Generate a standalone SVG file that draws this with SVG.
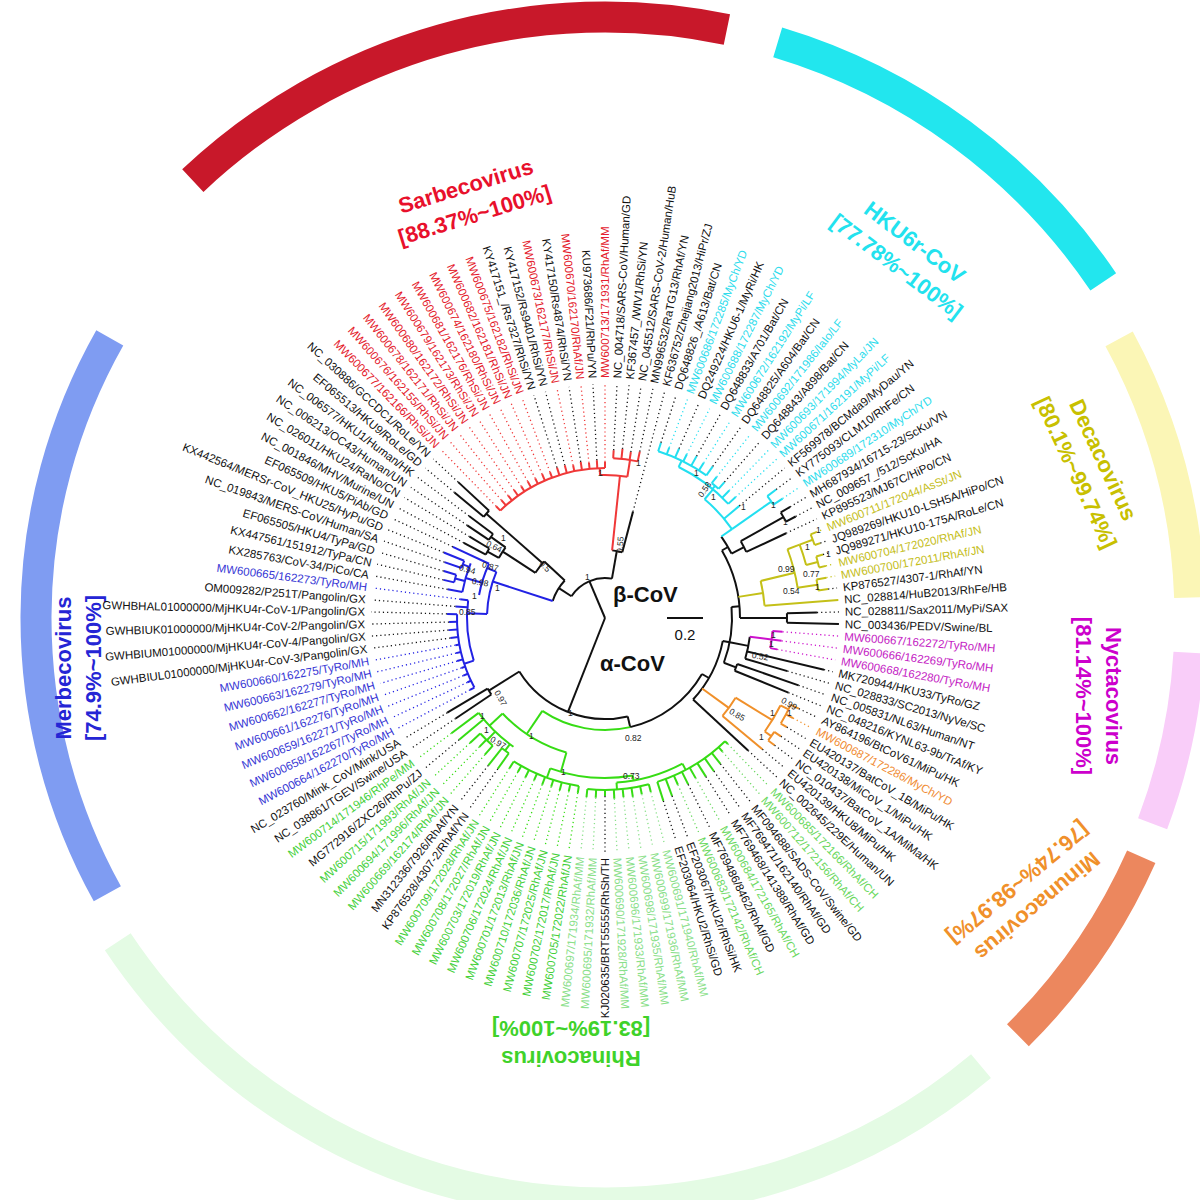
<svg xmlns="http://www.w3.org/2000/svg" width="1200" height="1200" viewBox="0 0 1200 1200">
<style>
text{font-family:"Liberation Sans",Arial,Helvetica,sans-serif}
.l{font-size:11.5px}
.e{text-anchor:end}
.tt{font-size:22px;font-weight:bold;text-anchor:middle}
.bs{font-size:8.5px;fill:#222}
.fk{fill:#111}.fr{fill:#e41a2c}.fc{fill:#2cdcec}.fy{fill:#c4bd18}.fm{fill:#c41cc4}.fo{fill:#f08c34}.fb{fill:#3636d4}.fg{fill:#44d03a}.fl{fill:#8ae08a}.fh{fill:#6ad860}
line,circle{fill:none}
.b{stroke-width:2}
.d{stroke-width:1.3;stroke-dasharray:1.2 3}
.sk{stroke:#111}.sr{stroke:#f03838}.sc{stroke:#22dff0}.sy{stroke:#c4c018}.sm{stroke:#cc11cc}.so{stroke:#f0902a}.sb{stroke:#2222e4}.sg{stroke:#36dc14}.sl{stroke:#8ae08a}.sh{stroke:#6ad860}
.band{fill:none;stroke-width:31}
</style>
<rect width="1200" height="1200" fill="#fff"/>
<g id="clade-bands" transform="translate(605,618)">
<circle class="band" r="601" stroke="#c8182a" pathLength="360" stroke-dasharray="55 360" transform="rotate(226.7)"/>
<circle class="band" r="601" stroke="#22e6ee" pathLength="360" stroke-dasharray="39.3 360" transform="rotate(286.7)"/>
<circle class="band" r="585" stroke="#fbf6b6" pathLength="360" stroke-dasharray="26.5 360" transform="rotate(-28.5)"/>
<circle class="band" r="585" stroke="#f9cdf9" pathLength="360" stroke-dasharray="17.2 360" transform="rotate(3.4)"/>
<circle class="band" r="587" stroke="#ec875e" pathLength="360" stroke-dasharray="21.3 360" transform="rotate(24)"/>
<circle class="band" r="585" stroke="#e4fbe4" pathLength="360" stroke-dasharray="96.4 360" transform="rotate(50)"/>
<circle class="band" r="569" stroke="#7f9cf2" pathLength="360" stroke-dasharray="58.5 360" transform="rotate(151)"/>
</g>
<g id="clade-titles">
<g id="title-sarbeco" transform="translate(470,200) rotate(-17)" fill="#e8102c"><text class="tt" y="-7">Sarbecovirus</text><text class="tt" y="23">[88.37%~100%]</text></g>
<g id="title-hku6r" transform="translate(906,254) rotate(37)" fill="#22e2ee"><text class="tt" y="-7">HKU6r-CoV</text><text class="tt" y="23">[77.78%~100%]</text></g>
<g id="title-decaco" transform="translate(1090,466) rotate(65)" fill="#c8c000"><text class="tt" y="-7">Decacovirus</text><text class="tt" y="23">[80.1%~99.74%]</text></g>
<g id="title-nyctaco" transform="translate(1099,696) rotate(90)" fill="#cc00cc"><text class="tt" y="-7">Nyctacovirus</text><text class="tt" y="23">[81.14%~100%]</text></g>
<g id="title-minunaco" transform="translate(1028,895) rotate(140)" fill="#f0902a"><text class="tt" y="-7">Minunacovirus</text><text class="tt" y="23">[76.74%~98.97%]</text></g>
<g id="title-rhinaco" transform="translate(571,1044) rotate(180)" fill="#3fd22a"><text class="tt" y="-7">Rhinacovirus</text><text class="tt" y="23">[83.19%~100%]</text></g>
<g id="title-merbeco" transform="translate(78,668) rotate(-90)" fill="#2525d5"><text class="tt" y="-7">Merbecovirus</text><text class="tt" y="23">[74.9%~100%]</text></g>
</g>
<g id="connectors" transform="translate(605,618)">
<line class="b sk" x2="101" transform="rotate(111.5)"/>
<line class="b sk" x2="40" transform="rotate(247)"/>
<circle class="b sk" r="40" pathLength="360" stroke-dasharray="67 360" transform="rotate(213)"/>
<circle class="b sk" r="101" pathLength="360" stroke-dasharray="71 360" transform="rotate(77)"/>
<line class="b sk" x1="40" x2="55" transform="rotate(213)"/>
<circle class="b sk" r="55" pathLength="360" stroke-dasharray="25 360" transform="rotate(198)"/>
<line class="b sb" x1="55" x2="118" transform="rotate(198)"/>
<circle class="b sb" r="118" pathLength="360" stroke-dasharray="21 360" transform="rotate(182)"/>
<line class="b sb" x1="118" x2="138" transform="rotate(182)"/>
<circle class="b sb" r="138" pathLength="360" stroke-dasharray="25.38 360" transform="rotate(162)"/>
<line class="b sb" x1="138" x2="148" transform="rotate(162)"/>
<circle class="b sb" r="148" pathLength="360" stroke-dasharray="29.51 360" transform="rotate(151.97)"/>
<line class="b sb" x1="118" x2="128" transform="rotate(203)"/>
<circle class="b sb" r="128" pathLength="360" stroke-dasharray="14.75 360" transform="rotate(190.33)"/>
<line class="b sb" x1="128" x2="145" transform="rotate(196)"/>
<circle class="b sb" r="145" pathLength="360" stroke-dasharray="11.8 360" transform="rotate(190.33)"/>
<line class="b sb" x1="145" x2="155" transform="rotate(194.75)"/>
<circle class="b sb" r="155" pathLength="360" stroke-dasharray="2.95 360" transform="rotate(193.28)"/>
<line class="b sb" x1="145" x2="152" transform="rotate(200.65)"/>
<circle class="b sb" r="152" pathLength="360" stroke-dasharray="2.95 360" transform="rotate(199.18)"/>
<line class="b sk" x1="55" x2="83" transform="rotate(223)"/>
<circle class="b sk" r="83" pathLength="360" stroke-dasharray="10 360" transform="rotate(213)"/>
<line class="b sk" x1="83" x2="122" transform="rotate(213)"/>
<circle class="b sk" r="122" pathLength="360" stroke-dasharray="5.9 360" transform="rotate(209.5)"/>
<line class="b sk" x1="122" x2="135" transform="rotate(209.5)"/>
<circle class="b sk" r="135" pathLength="360" stroke-dasharray="2.95 360" transform="rotate(208.03)"/>
<line class="b sk" x1="122" x2="140" transform="rotate(215.4)"/>
<circle class="b sk" r="140" pathLength="360" stroke-dasharray="2.96 360" transform="rotate(213.93)"/>
<line class="b sk" x1="83" x2="158" transform="rotate(221.3)"/>
<circle class="b sk" r="158" pathLength="360" stroke-dasharray="2.95 360" transform="rotate(219.84)"/>
<line class="b sk" x1="40" x2="68" transform="rotate(280)"/>
<circle class="b sk" r="68" pathLength="360" stroke-dasharray="8.75 360" transform="rotate(276)"/>
<line class="b sr" x1="68" x2="143" transform="rotate(276)"/>
<circle class="b sr" r="143" pathLength="360" stroke-dasharray="11 360" transform="rotate(268)"/>
<line class="b sr" x1="143" x2="150" transform="rotate(268)"/>
<circle class="b sr" r="150" pathLength="360" stroke-dasharray="44.26 360" transform="rotate(225.74)"/>
<line class="b sr" x1="143" x2="160" transform="rotate(279)"/>
<circle class="b sr" r="160" pathLength="360" stroke-dasharray="8.85 360" transform="rotate(272.95)"/>
<line class="b sk" x1="101" x2="137" transform="rotate(148)"/>
<circle class="b sk" r="137" pathLength="360" stroke-dasharray="2.95 360" transform="rotate(146.07)"/>
<line class="b sk" x1="101" x2="112" transform="rotate(77)"/>
<circle class="b sk" r="112" pathLength="360" stroke-dasharray="47 360" transform="rotate(30)"/>
<circle class="b sg" r="112" pathLength="360" stroke-dasharray="47 360" transform="rotate(77)"/>
<line class="b sg" x1="112" x2="140" transform="rotate(124)"/>
<circle class="b sg" r="140" pathLength="360" stroke-dasharray="31 360" transform="rotate(106)"/>
<line class="b sg" x1="140" x2="158" transform="rotate(137)"/>
<circle class="b sg" r="158" pathLength="360" stroke-dasharray="17.7 360" transform="rotate(125.41)"/>
<line class="b sg" x1="158" x2="166" transform="rotate(127)"/>
<circle class="b sg" r="166" pathLength="360" stroke-dasharray="2.95 360" transform="rotate(125.41)"/>
<line class="b sg" x1="158" x2="170" transform="rotate(134)"/>
<circle class="b sg" r="170" pathLength="360" stroke-dasharray="5.9 360" transform="rotate(131.31)"/>
<line class="b sg" x1="140" x2="160" transform="rotate(106)"/>
<circle class="b sg" r="160" pathLength="360" stroke-dasharray="30 360" transform="rotate(80)"/>
<line class="b sg" x1="160" x2="170" transform="rotate(110)"/>
<circle class="b sg" r="170" pathLength="360" stroke-dasharray="23.61 360" transform="rotate(98.85)"/>
<line class="b sg" x1="160" x2="165" transform="rotate(80)"/>
<circle class="b sg" r="165" pathLength="360" stroke-dasharray="24 360" transform="rotate(62)"/>
<line class="b sg" x1="165" x2="172" transform="rotate(86)"/>
<circle class="b sg" r="172" pathLength="360" stroke-dasharray="20.65 360" transform="rotate(75.25)"/>
<line class="b sg" x1="165" x2="172" transform="rotate(62)"/>
<circle class="b sg" r="172" pathLength="360" stroke-dasharray="26.56 360" transform="rotate(45.74)"/>
<line class="b sk" x1="112" x2="120" transform="rotate(30)"/>
<circle class="b sk" r="120" pathLength="360" stroke-dasharray="31.79 360" transform="rotate(11)"/>
<line class="b sk" x1="120" x2="127" transform="rotate(11)"/>
<circle class="b sk" r="127" pathLength="360" stroke-dasharray="25.65 360" transform="rotate(-5)"/>
<line class="b sk" x1="127" x2="135" transform="rotate(-5)"/>
<circle class="b sk" r="135" pathLength="360" stroke-dasharray="30 360" transform="rotate(-30)"/>
<line class="b sk" x1="135" x2="142" transform="rotate(-30)"/>
<circle class="b sk" r="142" pathLength="360" stroke-dasharray="8 360" transform="rotate(-35)"/>
<line class="b sc" x1="142" x2="155" transform="rotate(-35)"/>
<circle class="b sc" r="155" pathLength="360" stroke-dasharray="15 360" transform="rotate(-50)"/>
<line class="b sc" x1="155" x2="203" transform="rotate(-35)"/>
<circle class="b sc" r="203" pathLength="360" stroke-dasharray="2.96 360" transform="rotate(-36.89)"/>
<line class="b sc" x1="155" x2="168" transform="rotate(-50)"/>
<circle class="b sc" r="168" pathLength="360" stroke-dasharray="21.21 360" transform="rotate(-64)"/>
<line class="b sc" x1="168" x2="172" transform="rotate(-50.2)"/>
<circle class="b sc" r="172" pathLength="360" stroke-dasharray="2.95 360" transform="rotate(-51.64)"/>
<line class="b sc" x1="168" x2="175" transform="rotate(-64)"/>
<circle class="b sc" r="175" pathLength="360" stroke-dasharray="17.71 360" transform="rotate(-72.3)"/>
<line class="b sk" x1="142" x2="156" transform="rotate(-27)"/>
<circle class="b sk" r="156" pathLength="360" stroke-dasharray="4.42 360" transform="rotate(-29.5)"/>
<line class="b sk" x1="156" x2="205" transform="rotate(-29.5)"/>
<circle class="b sk" r="205" pathLength="360" stroke-dasharray="2.95 360" transform="rotate(-30.98)"/>
<line class="b sy" x1="135" x2="160" transform="rotate(-9)"/>
<circle class="b sy" r="160" pathLength="360" stroke-dasharray="8.97 360" transform="rotate(-13.4)"/>
<line class="b sy" x1="160" x2="195" transform="rotate(-13.4)"/>
<circle class="b sy" r="195" pathLength="360" stroke-dasharray="11.75 360" transform="rotate(-20.65)"/>
<line class="b sy" x1="195" x2="208" transform="rotate(-20.65)"/>
<circle class="b sy" r="208" pathLength="360" stroke-dasharray="5.9 360" transform="rotate(-20.65)"/>
<line class="b sy" x1="208" x2="222" transform="rotate(-20.65)"/>
<circle class="b sy" r="222" pathLength="360" stroke-dasharray="2.95 360" transform="rotate(-22.13)"/>
<line class="b sy" x1="208" x2="220" transform="rotate(-14.75)"/>
<circle class="b sy" r="220" pathLength="360" stroke-dasharray="2.95 360" transform="rotate(-16.23)"/>
<line class="b sy" x1="195" x2="215" transform="rotate(-8.9)"/>
<circle class="b sy" r="215" pathLength="360" stroke-dasharray="2.95 360" transform="rotate(-10.33)"/>
<line class="b sk" x1="135" x2="182" transform="rotate(0)"/>
<circle class="b sk" r="182" pathLength="360" stroke-dasharray="2.96 360" transform="rotate(-1.48)"/>
<line class="b sk" x1="127" x2="146" transform="rotate(11)"/>
<circle class="b sk" r="146" pathLength="360" stroke-dasharray="8.85 360" transform="rotate(7.38)"/>
<line class="b sm" x1="146" x2="168" transform="rotate(7.38)"/>
<circle class="b sm" r="168" pathLength="360" stroke-dasharray="5.9 360" transform="rotate(4.43)"/>
<line class="b sk" x1="127" x2="140" transform="rotate(20.65)"/>
<circle class="b sk" r="140" pathLength="360" stroke-dasharray="2.95 360" transform="rotate(19.18)"/>
<line class="b so" x1="120" x2="153" transform="rotate(36)"/>
<circle class="b so" r="153" pathLength="360" stroke-dasharray="8.44 360" transform="rotate(31.4)"/>
<line class="b so" x1="153" x2="196" transform="rotate(31.4)"/>
<circle class="b so" r="196" pathLength="360" stroke-dasharray="8.9 360" transform="rotate(26.5)"/>
<line class="b so" x1="196" x2="204" transform="rotate(35.4)"/>
<circle class="b so" r="204" pathLength="360" stroke-dasharray="2.96 360" transform="rotate(33.93)"/>
<line class="b so" x1="196" x2="205" transform="rotate(26.5)"/>
<circle class="b so" r="205" pathLength="360" stroke-dasharray="5.9 360" transform="rotate(25.08)"/>
<g transform="rotate(90)"><line class="b sg" x1="172" x2="178"/><line class="d sk" x1="178" x2="234"/></g>
<g transform="rotate(92.95)"><line class="b sg" x1="172" x2="180"/><line class="d sl" x1="180" x2="234"/></g>
<g transform="rotate(95.9)"><line class="b sg" x1="172" x2="180"/><line class="d sl" x1="180" x2="234"/></g>
<g transform="rotate(98.85)"><line class="b sg" x1="170" x2="177"/><line class="d sg" x1="177" x2="234"/></g>
<g transform="rotate(101.8)"><line class="b sg" x1="170" x2="177"/><line class="d sg" x1="177" x2="234"/></g>
<g transform="rotate(104.75)"><line class="b sg" x1="170" x2="178"/><line class="d sg" x1="178" x2="234"/></g>
<g transform="rotate(107.7)"><line class="b sg" x1="170" x2="177"/><line class="d sg" x1="177" x2="234"/></g>
<g transform="rotate(110.66)"><line class="b sg" x1="170" x2="178"/><line class="d sg" x1="178" x2="234"/></g>
<g transform="rotate(113.61)"><line class="b sg" x1="170" x2="177"/><line class="d sg" x1="177" x2="234"/></g>
<g transform="rotate(116.56)"><line class="b sg" x1="170" x2="178"/><line class="d sg" x1="178" x2="234"/></g>
<g transform="rotate(119.51)"><line class="b sg" x1="170" x2="177"/><line class="d sg" x1="177" x2="234"/></g>
<g transform="rotate(122.46)"><line class="b sg" x1="170" x2="178"/><line class="d sg" x1="178" x2="234"/></g>
<g transform="rotate(125.41)"><line class="b sg" x1="166" x2="185"/><line class="d sk" x1="185" x2="234"/></g>
<g transform="rotate(128.36)"><line class="b sg" x1="166" x2="188"/><line class="d sk" x1="188" x2="234"/></g>
<g transform="rotate(131.31)"><line class="b sg" x1="170" x2="182"/><line class="d sg" x1="182" x2="234"/></g>
<g transform="rotate(134.26)"><line class="b sg" x1="170" x2="180"/><line class="d sg" x1="180" x2="234"/></g>
<g transform="rotate(137.21)"><line class="b sg" x1="170" x2="184"/><line class="d sg" x1="184" x2="234"/></g>
<g transform="rotate(140.16)"><line class="b sg" x1="158" x2="190"/><line class="d sk" x1="190" x2="234"/></g>
<g transform="rotate(143.11)"><line class="b sg" x1="158" x2="192"/><line class="d sg" x1="192" x2="234"/></g>
<g transform="rotate(146.07)"><line class="b sk" x1="137" x2="180"/><line class="d sk" x1="180" x2="234"/></g>
<g transform="rotate(149.02)"><line class="b sk" x1="137" x2="184"/><line class="d sk" x1="184" x2="234"/></g>
<g transform="rotate(151.97)"><line class="b sb" x1="148" x2="153"/><line class="d sb" x1="153" x2="234"/></g>
<g transform="rotate(154.92)"><line class="b sb" x1="148" x2="152"/><line class="d sb" x1="152" x2="234"/></g>
<g transform="rotate(157.87)"><line class="b sb" x1="148" x2="153"/><line class="d sb" x1="153" x2="234"/></g>
<g transform="rotate(160.82)"><line class="b sb" x1="148" x2="152"/><line class="d sb" x1="152" x2="234"/></g>
<g transform="rotate(163.77)"><line class="b sb" x1="148" x2="154"/><line class="d sb" x1="154" x2="234"/></g>
<g transform="rotate(166.72)"><line class="b sb" x1="148" x2="153"/><line class="d sb" x1="153" x2="234"/></g>
<g transform="rotate(169.67)"><line class="b sb" x1="148" x2="152"/><line class="d sb" x1="152" x2="234"/></g>
<g transform="rotate(172.62)"><line class="b sb" x1="148" x2="156"/><line class="d sk" x1="156" x2="234"/></g>
<g transform="rotate(175.57)"><line class="b sb" x1="148" x2="157"/><line class="d sk" x1="157" x2="234"/></g>
<g transform="rotate(178.52)"><line class="b sb" x1="148" x2="156"/><line class="d sk" x1="156" x2="234"/></g>
<g transform="rotate(181.48)"><line class="b sb" x1="148" x2="158"/><line class="d sk" x1="158" x2="234"/></g>
<g transform="rotate(184.43)"><line class="b sb" x1="138" x2="150"/><line class="d sk" x1="150" x2="234"/></g>
<g transform="rotate(187.38)"><line class="b sb" x1="138" x2="146"/><line class="d sb" x1="146" x2="234"/></g>
<g transform="rotate(190.33)"><line class="b sb" x1="145" x2="160"/><line class="d sk" x1="160" x2="234"/></g>
<g transform="rotate(193.28)"><line class="b sb" x1="155" x2="166"/><line class="d sk" x1="166" x2="234"/></g>
<g transform="rotate(196.23)"><line class="b sb" x1="155" x2="168"/><line class="d sk" x1="168" x2="234"/></g>
<g transform="rotate(199.18)"><line class="b sb" x1="152" x2="170"/><line class="d sk" x1="170" x2="234"/></g>
<g transform="rotate(202.13)"><line class="b sb" x1="152" x2="174"/><line class="d sk" x1="174" x2="234"/></g>
<g transform="rotate(205.08)"><line class="b sb" x1="128" x2="168"/><line class="d sk" x1="168" x2="234"/></g>
<g transform="rotate(208.03)"><line class="b sk" x1="135" x2="160"/><line class="d sk" x1="160" x2="234"/></g>
<g transform="rotate(210.98)"><line class="b sk" x1="135" x2="158"/><line class="d sk" x1="158" x2="234"/></g>
<g transform="rotate(213.93)"><line class="b sk" x1="140" x2="166"/><line class="d sk" x1="166" x2="234"/></g>
<g transform="rotate(216.89)"><line class="b sk" x1="140" x2="170"/><line class="d sk" x1="170" x2="234"/></g>
<g transform="rotate(219.84)"><line class="b sk" x1="158" x2="196"/><line class="d sk" x1="196" x2="234"/></g>
<g transform="rotate(222.79)"><line class="b sk" x1="158" x2="200"/><line class="d sk" x1="200" x2="234"/></g>
<g transform="rotate(225.74)"><line class="b sr" x1="150" x2="156"/><line class="d sr" x1="156" x2="234"/></g>
<g transform="rotate(228.69)"><line class="b sr" x1="150" x2="157"/><line class="d sr" x1="157" x2="234"/></g>
<g transform="rotate(231.64)"><line class="b sr" x1="150" x2="156"/><line class="d sr" x1="156" x2="234"/></g>
<g transform="rotate(234.59)"><line class="b sr" x1="150" x2="157"/><line class="d sr" x1="157" x2="234"/></g>
<g transform="rotate(237.54)"><line class="b sr" x1="150" x2="156"/><line class="d sr" x1="156" x2="234"/></g>
<g transform="rotate(240.49)"><line class="b sr" x1="150" x2="157"/><line class="d sr" x1="157" x2="234"/></g>
<g transform="rotate(243.44)"><line class="b sr" x1="150" x2="156"/><line class="d sr" x1="156" x2="234"/></g>
<g transform="rotate(246.39)"><line class="b sr" x1="150" x2="157"/><line class="d sr" x1="157" x2="234"/></g>
<g transform="rotate(249.34)"><line class="b sr" x1="150" x2="156"/><line class="d sr" x1="156" x2="234"/></g>
<g transform="rotate(252.3)"><line class="b sr" x1="150" x2="158"/><line class="d sk" x1="158" x2="234"/></g>
<g transform="rotate(255.25)"><line class="b sr" x1="150" x2="158"/><line class="d sk" x1="158" x2="234"/></g>
<g transform="rotate(258.2)"><line class="b sr" x1="150" x2="156"/><line class="d sr" x1="156" x2="234"/></g>
<g transform="rotate(261.15)"><line class="b sr" x1="150" x2="158"/><line class="d sk" x1="158" x2="234"/></g>
<g transform="rotate(264.1)"><line class="b sr" x1="150" x2="156"/><line class="d sr" x1="156" x2="234"/></g>
<g transform="rotate(267.05)"><line class="b sr" x1="150" x2="158"/><line class="d sk" x1="158" x2="234"/></g>
<g transform="rotate(270)"><line class="b sr" x1="150" x2="156"/><line class="d sr" x1="156" x2="234"/></g>
<g transform="rotate(-87.05)"><line class="b sr" x1="160" x2="168"/><line class="d sk" x1="168" x2="234"/></g>
<g transform="rotate(-84.1)"><line class="b sr" x1="160" x2="170"/><line class="d sk" x1="170" x2="234"/></g>
<g transform="rotate(-81.15)"><line class="b sr" x1="160" x2="168"/><line class="d sk" x1="168" x2="234"/></g>
<g transform="rotate(-78.2)"><line class="b sr" x1="160" x2="170"/><line class="d sk" x1="170" x2="234"/></g>
<g transform="rotate(-75.25)"><line class="b sk" x1="68" x2="110"/><line class="d sk" x1="110" x2="234"/></g>
<g transform="rotate(-72.3)"><line class="b sc" x1="175" x2="184"/><line class="d sk" x1="184" x2="234"/></g>
<g transform="rotate(-69.34)"><line class="b sc" x1="175" x2="182"/><line class="d sc" x1="182" x2="234"/></g>
<g transform="rotate(-66.39)"><line class="b sc" x1="175" x2="185"/><line class="d sk" x1="185" x2="234"/></g>
<g transform="rotate(-63.44)"><line class="b sc" x1="175" x2="183"/><line class="d sc" x1="183" x2="234"/></g>
<g transform="rotate(-60.49)"><line class="b sc" x1="175" x2="186"/><line class="d sk" x1="186" x2="234"/></g>
<g transform="rotate(-57.54)"><line class="b sc" x1="175" x2="184"/><line class="d sc" x1="184" x2="234"/></g>
<g transform="rotate(-54.59)"><line class="b sc" x1="175" x2="186"/><line class="d sk" x1="186" x2="234"/></g>
<g transform="rotate(-51.64)"><line class="b sc" x1="172" x2="180"/><line class="d sc" x1="180" x2="234"/></g>
<g transform="rotate(-48.69)"><line class="b sc" x1="172" x2="181"/><line class="d sk" x1="181" x2="234"/></g>
<g transform="rotate(-45.74)"><line class="b sc" x1="168" x2="178"/><line class="d sc" x1="178" x2="234"/></g>
<g transform="rotate(-42.79)"><line class="b sc" x1="168" x2="178"/><line class="d sc" x1="178" x2="234"/></g>
<g transform="rotate(-39.84)"><line class="b sc" x1="155" x2="175"/><line class="d sk" x1="175" x2="234"/></g>
<g transform="rotate(-36.89)"><line class="b sc" x1="203" x2="214"/><line class="d sk" x1="214" x2="234"/></g>
<g transform="rotate(-33.93)"><line class="b sc" x1="203" x2="214"/><line class="d sc" x1="214" x2="234"/></g>
<g transform="rotate(-30.98)"><line class="b sk" x1="205" x2="216"/><line class="d sk" x1="216" x2="234"/></g>
<g transform="rotate(-28.03)"><line class="b sk" x1="205" x2="216"/><line class="d sk" x1="216" x2="234"/></g>
<g transform="rotate(-25.08)"><line class="b sk" x1="156" x2="200"/><line class="d sk" x1="200" x2="234"/></g>
<g transform="rotate(-22.13)"><line class="b sy" x1="222" x2="228"/><line class="d sy" x1="228" x2="234"/></g>
<g transform="rotate(-19.18)"><line class="b sy" x1="222" x2="228"/><line class="d sk" x1="228" x2="234"/></g>
<g transform="rotate(-16.23)"><line class="b sy" x1="220" x2="227"/><line class="d sk" x1="227" x2="234"/></g>
<g transform="rotate(-13.28)"><line class="b sy" x1="220" x2="227"/><line class="d sy" x1="227" x2="234"/></g>
<g transform="rotate(-10.33)"><line class="b sy" x1="215" x2="225"/><line class="d sy" x1="225" x2="234"/></g>
<g transform="rotate(-7.38)"><line class="b sy" x1="215" x2="225"/><line class="d sk" x1="225" x2="234"/></g>
<g transform="rotate(-4.43)"><line class="b sy" x1="160" x2="234"/></g>
<g transform="rotate(-1.48)"><line class="b sk" x1="182" x2="212"/><line class="d sk" x1="212" x2="234"/></g>
<g transform="rotate(1.48)"><line class="b sk" x1="182" x2="234"/></g>
<g transform="rotate(4.43)"><line class="b sm" x1="168" x2="178"/><line class="d sm" x1="178" x2="234"/></g>
<g transform="rotate(7.38)"><line class="b sm" x1="168" x2="178"/><line class="d sm" x1="178" x2="234"/></g>
<g transform="rotate(10.33)"><line class="b sm" x1="168" x2="175"/><line class="d sm" x1="175" x2="234"/></g>
<g transform="rotate(13.28)"><line class="b sk" x1="146" x2="225"/><line class="d sk" x1="225" x2="234"/></g>
<g transform="rotate(16.23)"><line class="b sk" x1="146" x2="190"/><line class="d sk" x1="190" x2="234"/></g>
<g transform="rotate(19.18)"><line class="b sk" x1="140" x2="205"/><line class="d sk" x1="205" x2="234"/></g>
<g transform="rotate(22.13)"><line class="b sk" x1="140" x2="198"/><line class="d sk" x1="198" x2="234"/></g>
<g transform="rotate(25.08)"><line class="b so" x1="205" x2="214"/><line class="d sk" x1="214" x2="234"/></g>
<g transform="rotate(28.03)"><line class="b so" x1="205" x2="213"/><line class="d so" x1="213" x2="234"/></g>
<g transform="rotate(30.98)"><line class="b so" x1="205" x2="212"/><line class="d sk" x1="212" x2="234"/></g>
<g transform="rotate(33.93)"><line class="b so" x1="204" x2="212"/><line class="d sk" x1="212" x2="234"/></g>
<g transform="rotate(36.89)"><line class="b so" x1="204" x2="212"/><line class="d sk" x1="212" x2="234"/></g>
<g transform="rotate(39.84)"><line class="b so" x1="153" x2="205"/><line class="d sk" x1="205" x2="234"/></g>
<g transform="rotate(42.79)"><line class="b sk" x1="120" x2="195"/><line class="d sk" x1="195" x2="234"/></g>
<g transform="rotate(45.74)"><line class="b sg" x1="172" x2="176"/><line class="d sh" x1="176" x2="234"/></g>
<g transform="rotate(48.69)"><line class="b sg" x1="172" x2="178"/><line class="d sh" x1="178" x2="234"/></g>
<g transform="rotate(51.64)"><line class="b sg" x1="172" x2="186"/><line class="d sk" x1="186" x2="234"/></g>
<g transform="rotate(54.59)"><line class="b sg" x1="172" x2="188"/><line class="d sk" x1="188" x2="234"/></g>
<g transform="rotate(57.54)"><line class="b sg" x1="172" x2="188"/><line class="d sk" x1="188" x2="234"/></g>
<g transform="rotate(60.49)"><line class="b sg" x1="172" x2="184"/><line class="d sh" x1="184" x2="234"/></g>
<g transform="rotate(63.44)"><line class="b sg" x1="172" x2="186"/><line class="d sk" x1="186" x2="234"/></g>
<g transform="rotate(66.39)"><line class="b sg" x1="172" x2="182"/><line class="d sh" x1="182" x2="234"/></g>
<g transform="rotate(69.34)"><line class="b sg" x1="172" x2="190"/><line class="d sk" x1="190" x2="234"/></g>
<g transform="rotate(72.3)"><line class="b sg" x1="172" x2="192"/><line class="d sk" x1="192" x2="234"/></g>
<g transform="rotate(75.25)"><line class="b sg" x1="172" x2="180"/><line class="d sl" x1="180" x2="234"/></g>
<g transform="rotate(78.2)"><line class="b sg" x1="172" x2="180"/><line class="d sl" x1="180" x2="234"/></g>
<g transform="rotate(81.15)"><line class="b sg" x1="172" x2="181"/><line class="d sl" x1="181" x2="234"/></g>
<g transform="rotate(84.1)"><line class="b sg" x1="172" x2="180"/><line class="d sl" x1="180" x2="234"/></g>
<g transform="rotate(87.05)"><line class="b sg" x1="172" x2="181"/><line class="d sl" x1="181" x2="234"/></g>
</g>
<g id="taxa" transform="translate(605,618)">
<g id="n1"><text class="l e fk" x="-240" y="4" transform="rotate(-90)">KJ020635/BRT55555/RhSh/TH</text></g>
<g id="n2"><text class="l e fl" x="-240" y="4" transform="rotate(-87.05)">MW600695/171932/RhAf/MM</text></g>
<g id="n3"><text class="l e fl" x="-240" y="4" transform="rotate(-84.1)">MW600697/171934/RhAf/MM</text></g>
<g id="n4"><text class="l e fg" x="-240" y="4" transform="rotate(-81.15)">MW600705/172022/RhAf/JN</text></g>
<g id="n5"><text class="l e fg" x="-240" y="4" transform="rotate(-78.2)">MW600702/172017/RhAf/JN</text></g>
<g id="n6"><text class="l e fg" x="-240" y="4" transform="rotate(-75.25)">MW600707/172025/RhAf/JN</text></g>
<g id="n7"><text class="l e fg" x="-240" y="4" transform="rotate(-72.3)">MW600710/172036/RhAf/JN</text></g>
<g id="n8"><text class="l e fg" x="-240" y="4" transform="rotate(-69.34)">MW600701/172013/RhAf/JN</text></g>
<g id="n9"><text class="l e fg" x="-240" y="4" transform="rotate(-66.39)">MW600706/172024/RhAf/JN</text></g>
<g id="n10"><text class="l e fg" x="-240" y="4" transform="rotate(-63.44)">MW600703/172019/RhAf/JN</text></g>
<g id="n11"><text class="l e fg" x="-240" y="4" transform="rotate(-60.49)">MW600708/172027/RhAf/JN</text></g>
<g id="n12"><text class="l e fg" x="-240" y="4" transform="rotate(-57.54)">MW600709/172028/RhAf/JN</text></g>
<g id="n13"><text class="l e fk" x="-240" y="4" transform="rotate(-54.59)">KP876528/4307-2/RhAf/YN</text></g>
<g id="n14"><text class="l e fk" x="-240" y="4" transform="rotate(-51.64)">MN312336/7926/RhAf/YN</text></g>
<g id="n15"><text class="l e fg" x="-240" y="4" transform="rotate(-48.69)">MW600669/162174/RhAf/JN</text></g>
<g id="n16"><text class="l e fg" x="-240" y="4" transform="rotate(-45.74)">MW600694/171996/RhAf/JN</text></g>
<g id="n17"><text class="l e fg" x="-240" y="4" transform="rotate(-42.79)">MW600715/171993/RhAf/JN</text></g>
<g id="n18"><text class="l e fk" x="-240" y="4" transform="rotate(-39.84)">MG772916/ZXC26/RhPu/ZJ</text></g>
<g id="n19"><text class="l e fg" x="-240" y="4" transform="rotate(-36.89)">MW600714/171946/RhPe/MM</text></g>
<g id="n20"><text class="l e fk" x="-240" y="4" transform="rotate(-33.93)">NC_038861/TGEV/Swine/USA</text></g>
<g id="n21"><text class="l e fk" x="-240" y="4" transform="rotate(-30.98)">NC_023760/Mink_CoV/Mink/USA</text></g>
<g id="n22"><text class="l e fb" x="-240" y="4" transform="rotate(-28.03)">MW600664/162270/TyRo/MH</text></g>
<g id="n23"><text class="l e fb" x="-240" y="4" transform="rotate(-25.08)">MW600658/162267/TyRo/MH</text></g>
<g id="n24"><text class="l e fb" x="-240" y="4" transform="rotate(-22.13)">MW600659/162271/TyRo/MH</text></g>
<g id="n25"><text class="l e fb" x="-240" y="4" transform="rotate(-19.18)">MW600661/162276/TyRo/MH</text></g>
<g id="n26"><text class="l e fb" x="-240" y="4" transform="rotate(-16.23)">MW600662/162277/TyRo/MH</text></g>
<g id="n27"><text class="l e fb" x="-240" y="4" transform="rotate(-13.28)">MW600663/162279/TyRo/MH</text></g>
<g id="n28"><text class="l e fb" x="-240" y="4" transform="rotate(-10.33)">MW600660/162275/TyRo/MH</text></g>
<g id="n29"><text class="l e fk" x="-240" y="4" transform="rotate(-7.38)">GWHBIUL01000000/MjHKU4r-CoV-3/Pangolin/GX</text></g>
<g id="n30"><text class="l e fk" x="-240" y="4" transform="rotate(-4.43)">GWHBIUM01000000/MjHKU4r-CoV-4/Pangolin/GX</text></g>
<g id="n31"><text class="l e fk" x="-240" y="4" transform="rotate(-1.48)">GWHBIUK01000000/MjHKU4r-CoV-2/Pangolin/GX</text></g>
<g id="n32"><text class="l e fk" x="-240" y="4" transform="rotate(1.48)">GWHBHAL01000000/MjHKU4r-CoV-1/Pangolin/GX</text></g>
<g id="n33"><text class="l e fk" x="-240" y="4" transform="rotate(4.43)">OM009282/P251T/Pangolin/GX</text></g>
<g id="n34"><text class="l e fb" x="-240" y="4" transform="rotate(7.38)">MW600665/162273/TyRo/MH</text></g>
<g id="n35"><text class="l e fk" x="-240" y="4" transform="rotate(10.33)">KX285763/CoV-34/PiCo/CA</text></g>
<g id="n36"><text class="l e fk" x="-240" y="4" transform="rotate(13.28)">KX447561/151912/TyPa/CN</text></g>
<g id="n37"><text class="l e fk" x="-240" y="4" transform="rotate(16.23)">EF065505/HKU4/TyPa/GD</text></g>
<g id="n38"><text class="l e fk" x="-240" y="4" transform="rotate(19.18)">NC_019843/MERS-CoV/Human/SA</text></g>
<g id="n39"><text class="l e fk" x="-240" y="4" transform="rotate(22.13)">KX442564/MERSr-CoV_HKU25/HyPu/GD</text></g>
<g id="n40"><text class="l e fk" x="-240" y="4" transform="rotate(25.08)">EF065509/HKU5/PiAb/GD</text></g>
<g id="n41"><text class="l e fk" x="-240" y="4" transform="rotate(28.03)">NC_001846/MHV/Murine/UN</text></g>
<g id="n42"><text class="l e fk" x="-240" y="4" transform="rotate(30.98)">NC_026011/HKU24/RaNo/CN</text></g>
<g id="n43"><text class="l e fk" x="-240" y="4" transform="rotate(33.93)">NC_006213/OC43/Human/UN</text></g>
<g id="n44"><text class="l e fk" x="-240" y="4" transform="rotate(36.89)">NC_006577/HKU1/Human/HK</text></g>
<g id="n45"><text class="l e fk" x="-240" y="4" transform="rotate(39.84)">EF065513/HKU9/RoLe/GD</text></g>
<g id="n46"><text class="l e fk" x="-240" y="4" transform="rotate(42.79)">NC_030886/GCCDC1/RoLe/YN</text></g>
<g id="n47"><text class="l e fr" x="-240" y="4" transform="rotate(45.74)">MW600677/162166/RhSi/JN</text></g>
<g id="n48"><text class="l e fr" x="-240" y="4" transform="rotate(48.69)">MW600676/162155/RhSi/JN</text></g>
<g id="n49"><text class="l e fr" x="-240" y="4" transform="rotate(51.64)">MW600678/162171/RhSi/JN</text></g>
<g id="n50"><text class="l e fr" x="-240" y="4" transform="rotate(54.59)">MW600680/162172/RhSi/JN</text></g>
<g id="n51"><text class="l e fr" x="-240" y="4" transform="rotate(57.54)">MW600679/162173/RhSi/JN</text></g>
<g id="n52"><text class="l e fr" x="-240" y="4" transform="rotate(60.49)">MW600681/162176/RhSi/JN</text></g>
<g id="n53"><text class="l e fr" x="-240" y="4" transform="rotate(63.44)">MW600674/162180/RhSi/JN</text></g>
<g id="n54"><text class="l e fr" x="-240" y="4" transform="rotate(66.39)">MW600682/162181/RhSi/JN</text></g>
<g id="n55"><text class="l e fr" x="-240" y="4" transform="rotate(69.34)">MW600675/162182/RhSi/JN</text></g>
<g id="n56"><text class="l e fk" x="-240" y="4" transform="rotate(72.3)">KY417151_/Rs7327/RhSi/YN</text></g>
<g id="n57"><text class="l e fk" x="-240" y="4" transform="rotate(75.25)">KY417152/Rs9401/RhSi/YN</text></g>
<g id="n58"><text class="l e fr" x="-240" y="4" transform="rotate(78.2)">MW600673/162177/RhSi/JN</text></g>
<g id="n59"><text class="l e fk" x="-240" y="4" transform="rotate(81.15)">KY417150/Rs4874/RhSi/YN</text></g>
<g id="n60"><text class="l e fr" x="-240" y="4" transform="rotate(84.1)">MW600670/162170/RhAf/JN</text></g>
<g id="n61"><text class="l e fk" x="-240" y="4" transform="rotate(87.05)">KU973686/F21/RhPu/YN</text></g>
<g id="n62"><text class="l fr" x="240" y="4" transform="rotate(-90)">MW600713/171931/RhAf/MM</text></g>
<g id="n63"><text class="l fk" x="240" y="4" transform="rotate(-87.05)">NC_004718/SARS-CoV/Human/GD</text></g>
<g id="n64"><text class="l fk" x="240" y="4" transform="rotate(-84.1)">KF367457_/WIV1/RhSi/YN</text></g>
<g id="n65"><text class="l fk" x="240" y="4" transform="rotate(-81.15)">NC_045512/SARS-CoV-2/Human/HuB</text></g>
<g id="n66"><text class="l fk" x="240" y="4" transform="rotate(-78.2)">MN996532/RaTG13/RhAf/YN</text></g>
<g id="n67"><text class="l fk" x="240" y="4" transform="rotate(-75.25)">KF636752/Zhejiang2013/HiPr/ZJ</text></g>
<g id="n68"><text class="l fk" x="240" y="4" transform="rotate(-72.3)">DQ648826_/A613/Bat/CN</text></g>
<g id="n69"><text class="l fc" x="240" y="4" transform="rotate(-69.34)">MW600686/172285/MyCh/YD</text></g>
<g id="n70"><text class="l fk" x="240" y="4" transform="rotate(-66.39)">DQ249224/HKU6-1/MyRi/HK</text></g>
<g id="n71"><text class="l fc" x="240" y="4" transform="rotate(-63.44)">MW600688/172287/MyCh/YD</text></g>
<g id="n72"><text class="l fk" x="240" y="4" transform="rotate(-60.49)">DQ648833/A701/Bat/CN</text></g>
<g id="n73"><text class="l fc" x="240" y="4" transform="rotate(-57.54)">MW600672/162192/MyPi/LF</text></g>
<g id="n74"><text class="l fk" x="240" y="4" transform="rotate(-54.59)">DQ648825/A604/Bat/CN</text></g>
<g id="n75"><text class="l fc" x="240" y="4" transform="rotate(-51.64)">MW600692/171986/IaIo/LF</text></g>
<g id="n76"><text class="l fk" x="240" y="4" transform="rotate(-48.69)">DQ648843/A898/Bat/CN</text></g>
<g id="n77"><text class="l fc" x="240" y="4" transform="rotate(-45.74)">MW600693/171994/MyLa/JN</text></g>
<g id="n78"><text class="l fc" x="240" y="4" transform="rotate(-42.79)">MW600671/162191/MyPi/LF</text></g>
<g id="n79"><text class="l fk" x="240" y="4" transform="rotate(-39.84)">KF569978/BCMda9/MyDau/YN</text></g>
<g id="n80"><text class="l fk" x="240" y="4" transform="rotate(-36.89)">KY775093/CLM10/RhFe/CN</text></g>
<g id="n81"><text class="l fc" x="240" y="4" transform="rotate(-33.93)">MW600689/172310/MyCh/YD</text></g>
<g id="n82"><text class="l fk" x="240" y="4" transform="rotate(-30.98)">MH687934/16715-23/ScKu/VN</text></g>
<g id="n83"><text class="l fk" x="240" y="4" transform="rotate(-28.03)">NC_009657_/512/ScKu/HA</text></g>
<g id="n84"><text class="l fk" x="240" y="4" transform="rotate(-25.08)">KP895523/MJ67C/HiPo/CN</text></g>
<g id="n85"><text class="l fy" x="240" y="4" transform="rotate(-22.13)">MW600711/172044/AsSt/JN</text></g>
<g id="n86"><text class="l fk" x="240" y="4" transform="rotate(-19.18)">JQ989269/HKU10-LSH5A/HiPo/CN</text></g>
<g id="n87"><text class="l fk" x="240" y="4" transform="rotate(-16.23)">JQ989271/HKU10-175A/RoLe/CN</text></g>
<g id="n88"><text class="l fy" x="240" y="4" transform="rotate(-13.28)">MW600704/172020/RhAf/JN</text></g>
<g id="n89"><text class="l fy" x="240" y="4" transform="rotate(-10.33)">MW600700/172011/RhAf/JN</text></g>
<g id="n90"><text class="l fk" x="240" y="4" transform="rotate(-7.38)">KP876527/4307-1/RhAf/YN</text></g>
<g id="n91"><text class="l fk" x="240" y="4" transform="rotate(-4.43)">NC_028814/HuB2013/RhFe/HB</text></g>
<g id="n92"><text class="l fk" x="240" y="4" transform="rotate(-1.48)">NC_028811/Sax2011/MyPi/SAX</text></g>
<g id="n93"><text class="l fk" x="240" y="4" transform="rotate(1.48)">NC_003436/PEDV/Swine/BL</text></g>
<g id="n94"><text class="l fm" x="240" y="4" transform="rotate(4.43)">MW600667/162272/TyRo/MH</text></g>
<g id="n95"><text class="l fm" x="240" y="4" transform="rotate(7.38)">MW600666/162269/TyRo/MH</text></g>
<g id="n96"><text class="l fm" x="240" y="4" transform="rotate(10.33)">MW600668/162280/TyRo/MH</text></g>
<g id="n97"><text class="l fk" x="240" y="4" transform="rotate(13.28)">MK720944/HKU33/TyRo/GZ</text></g>
<g id="n98"><text class="l fk" x="240" y="4" transform="rotate(16.23)">NC_028833/SC2013/NyVe/SC</text></g>
<g id="n99"><text class="l fk" x="240" y="4" transform="rotate(19.18)">NC_005831/NL63/Human/NT</text></g>
<g id="n100"><text class="l fk" x="240" y="4" transform="rotate(22.13)">NC_048216/KYNL63-9b/TrAf/KY</text></g>
<g id="n101"><text class="l fk" x="240" y="4" transform="rotate(25.08)">AY864196/BtCoV61/MiPu/HK</text></g>
<g id="n102"><text class="l fo" x="240" y="4" transform="rotate(28.03)">MW600687/172286/MyCh/YD</text></g>
<g id="n103"><text class="l fk" x="240" y="4" transform="rotate(30.98)">EU420137/BatCoV_1B/MiPu/HK</text></g>
<g id="n104"><text class="l fk" x="240" y="4" transform="rotate(33.93)">EU420138/MiCoV_1/MiPu/HK</text></g>
<g id="n105"><text class="l fk" x="240" y="4" transform="rotate(36.89)">NC_010437/BatCoV_1A/MiMa/HK</text></g>
<g id="n106"><text class="l fk" x="240" y="4" transform="rotate(39.84)">EU420139/HKU8/MiPu/HK</text></g>
<g id="n107"><text class="l fk" x="240" y="4" transform="rotate(42.79)">NC_002645/229E/Human/UN</text></g>
<g id="n108"><text class="l fh" x="240" y="4" transform="rotate(45.74)">MW600685/172166/RhAf/CH</text></g>
<g id="n109"><text class="l fh" x="240" y="4" transform="rotate(48.69)">MW600712/172156/RhAf/CH</text></g>
<g id="n110"><text class="l fk" x="240" y="4" transform="rotate(51.64)">MF094688/SADS-CoV/Swine/GD</text></g>
<g id="n111"><text class="l fk" x="240" y="4" transform="rotate(54.59)">MF769471/162140/RhAf/GD</text></g>
<g id="n112"><text class="l fk" x="240" y="4" transform="rotate(57.54)">MF769468/141388/RhAf/GD</text></g>
<g id="n113"><text class="l fh" x="240" y="4" transform="rotate(60.49)">MW600684/172165/RhAf/CH</text></g>
<g id="n114"><text class="l fk" x="240" y="4" transform="rotate(63.44)">MF769486/8462/RhAf/GD</text></g>
<g id="n115"><text class="l fh" x="240" y="4" transform="rotate(66.39)">MW600683/172142/RhAf/CH</text></g>
<g id="n116"><text class="l fk" x="240" y="4" transform="rotate(69.34)">EF203067/HKU2r/RhSi/HK</text></g>
<g id="n117"><text class="l fk" x="240" y="4" transform="rotate(72.3)">EF203064/HKU2/RhSi/GD</text></g>
<g id="n118"><text class="l fl" x="240" y="4" transform="rotate(75.25)">MW600691/171940/RhAf/MM</text></g>
<g id="n119"><text class="l fl" x="240" y="4" transform="rotate(78.2)">MW600699/171936/RhAf/MM</text></g>
<g id="n120"><text class="l fl" x="240" y="4" transform="rotate(81.15)">MW600698/171935/RhAf/MM</text></g>
<g id="n121"><text class="l fl" x="240" y="4" transform="rotate(84.1)">MW600696/171933/RhAf/MM</text></g>
<g id="n122"><text class="l fl" x="240" y="4" transform="rotate(87.05)">MW600690/171928/RhAf/MM</text></g>
</g>
<g id="group-labels" font-weight="bold" font-size="22" fill="#111">
<text x="613" y="602">β-CoV</text>
<text x="600" y="671">α-CoV</text>
</g>
<g id="scale-bar">
<line x1="667" y1="618" x2="703" y2="618" stroke="#111" stroke-width="2"/>
<text x="685" y="640" font-size="15" text-anchor="middle" fill="#111">0.2</text>
</g>
<g id="support" class="bs">
<text class="bs" x="585" y="580">1</text>
<text class="bs" x="538" y="568" transform="rotate(45 543 567)">0.5</text>
<text class="bs" x="612" y="548" transform="rotate(-85 620 545)">0.55</text>
<text class="bs" x="486" y="549" transform="rotate(25 493 546)">0.64</text>
<text class="bs" x="501" y="541">1</text>
<text class="bs" x="482" y="569" transform="rotate(15 489 566)">0.87</text>
<text class="bs" x="459" y="572" transform="rotate(15 466 569)">0.94</text>
<text class="bs" x="472" y="585" transform="rotate(10 479 582)">0.98</text>
<text class="bs" x="495" y="591">1</text>
<text class="bs" x="472" y="599">1</text>
<text class="bs" x="459" y="615">0.85</text>
<text class="bs" x="493" y="700" transform="rotate(60 500 697)">0.97</text>
<text class="bs" x="480" y="719">1</text>
<text class="bs" x="484" y="733">1</text>
<text class="bs" x="490" y="745" transform="rotate(30 497 742)">0.97</text>
<text class="bs" x="529" y="739">1</text>
<text class="bs" x="568" y="716">1</text>
<text class="bs" x="625" y="741">0.82</text>
<text class="bs" x="623" y="779">0.73</text>
<text class="bs" x="561" y="775">1</text>
<text class="bs" x="729" y="717" transform="rotate(30 736 714)">0.85</text>
<text class="bs" x="770" y="716">1</text>
<text class="bs" x="781" y="706" transform="rotate(30 788 703)">0.99</text>
<text class="bs" x="787" y="716">1</text>
<text class="bs" x="759" y="740">1</text>
<text class="bs" x="752" y="659" transform="rotate(10 759 656)">0.52</text>
<text class="bs" x="771" y="638">1</text>
<text class="bs" x="769" y="647">1</text>
<text class="bs" x="778" y="572">0.99</text>
<text class="bs" x="803" y="577">0.77</text>
<text class="bs" x="783" y="594">0.54</text>
<text class="bs" x="805" y="550">1</text>
<text class="bs" x="826" y="557">1</text>
<text class="bs" x="815" y="590">1</text>
<text class="bs" x="783" y="525">1</text>
<text class="bs" x="816" y="533">1</text>
<text class="bs" x="696" y="494" transform="rotate(-55 703 490)">0.58</text>
<text class="bs" x="694" y="476">1</text>
<text class="bs" x="711" y="500">1</text>
<text class="bs" x="741" y="510">1</text>
<text class="bs" x="771" y="508">1</text>
<text class="bs" x="636" y="466">1</text>
<text class="bs" x="598" y="476">1</text>
</g>
</svg>
